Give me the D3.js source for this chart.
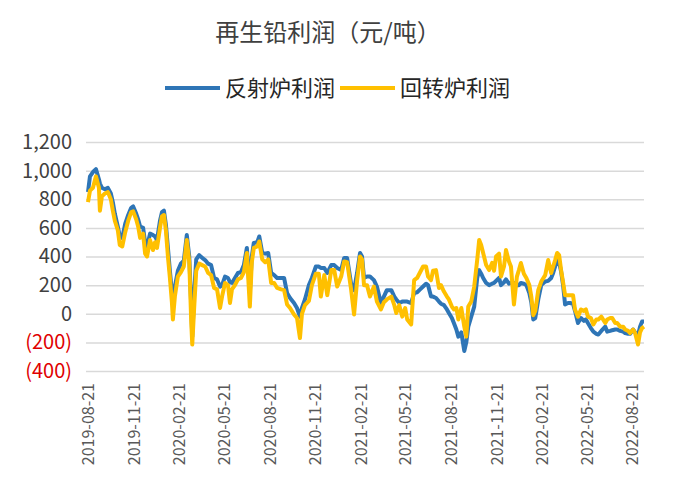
<!DOCTYPE html>
<html>
<head>
<meta charset="utf-8">
<script src="https://cdn.jsdelivr.net/npm/d3@7"></script>
<style>
  body { margin: 0; background: #fff; }
  text { font-family: "Noto Sans CJK SC", "Noto Sans", sans-serif; }
</style>
</head>
<body>
<div id="my_dataviz"></div>
<script>

// chart data (roughly weekly)
var dates = [
  "2019-08-21","2019-08-25","2019-08-31","2019-09-06","2019-09-12","2019-09-14","2019-09-18","2019-09-24","2019-09-30","2019-10-06",
  "2019-10-10","2019-10-14","2019-10-20","2019-10-24","2019-10-29","2019-11-04","2019-11-10","2019-11-16","2019-11-20","2019-11-26",
  "2019-11-30","2019-12-04","2019-12-10","2019-12-14","2019-12-18","2019-12-24","2019-12-30","2020-01-03","2020-01-07","2020-01-13",
  "2020-01-17","2020-01-21","2020-01-25","2020-01-29","2020-02-02","2020-02-06","2020-02-08","2020-02-12","2020-02-18","2020-02-24",
  "2020-03-01","2020-03-07","2020-03-12","2020-03-16","2020-03-18","2020-03-22","2020-03-26","2020-04-01","2020-04-07","2020-04-13",
  "2020-04-19","2020-04-25","2020-05-01","2020-05-07","2020-05-13","2020-05-17","2020-05-23","2020-05-29","2020-06-02","2020-06-06",
  "2020-06-12","2020-06-18","2020-06-24","2020-06-30","2020-07-06","2020-07-12","2020-07-16","2020-07-20","2020-07-27","2020-07-31",
  "2020-08-06","2020-08-12","2020-08-18","2020-08-24","2020-08-30","2020-09-05","2020-09-13","2020-09-19","2020-09-25","2020-10-01",
  "2020-10-09","2020-10-15","2020-10-21","2020-10-25","2020-10-31","2020-11-08","2020-11-14","2020-11-22","2020-11-28","2020-12-02",
  "2020-12-09","2020-12-15","2020-12-23","2020-12-29","2021-01-04","2021-01-12","2021-01-18","2021-01-24","2021-02-01","2021-02-07",
  "2021-02-13","2021-02-19","2021-02-23","2021-02-27","2021-03-05","2021-03-11","2021-03-19","2021-03-25","2021-04-02","2021-04-08",
  "2021-04-14","2021-04-23","2021-04-29","2021-05-03","2021-05-09","2021-05-15","2021-05-21","2021-05-25","2021-06-02","2021-06-08",
  "2021-06-14","2021-06-20","2021-06-26","2021-07-02","2021-07-06","2021-07-12","2021-07-16","2021-07-22","2021-07-28","2021-08-01",
  "2021-08-07","2021-08-13","2021-08-17","2021-08-23","2021-08-27","2021-09-01","2021-09-05","2021-09-11","2021-09-17","2021-09-21",
  "2021-09-25","2021-10-01","2021-10-07","2021-10-13","2021-10-17","2021-10-21","2021-10-25","2021-10-31","2021-11-06","2021-11-12",
  "2021-11-16","2021-11-20","2021-11-26","2021-11-30","2021-12-06","2021-12-10","2021-12-16","2021-12-20","2021-12-26","2022-01-01",
  "2022-01-05","2022-01-09","2022-01-15","2022-01-20","2022-01-26","2022-01-30","2022-02-03","2022-02-07","2022-02-13","2022-02-19",
  "2022-02-27","2022-03-05","2022-03-11","2022-03-15","2022-03-19","2022-03-23","2022-03-27","2022-03-31","2022-04-04","2022-04-08",
  "2022-04-14","2022-04-18","2022-04-24","2022-04-28","2022-05-04","2022-05-10","2022-05-16","2022-05-20","2022-05-24","2022-05-30",
  "2022-06-04","2022-06-10","2022-06-14","2022-06-20","2022-06-28","2022-07-02","2022-07-08","2022-07-12","2022-07-18","2022-07-22",
  "2022-07-28","2022-08-03","2022-08-07","2022-08-13","2022-08-17","2022-08-23","2022-08-27","2022-09-02","2022-09-06","2022-09-10",
  "2022-09-14"
]

// 反射炉利润
var reverb = [
  850,960,990,1010,940,910,880,870,880,840,
  780,700,610,540,530,630,690,740,750,700,
  660,610,600,500,470,560,550,540,515,650,
  710,720,620,460,300,150,75,190,300,350,
  370,550,400,50,-160,150,380,410,390,375,
  350,340,250,240,190,200,260,250,220,215,
  250,285,290,340,460,145,400,495,500,540,
  425,420,425,285,270,250,250,250,145,110,
  75,40,-20,40,100,200,250,330,330,320,
  320,285,340,340,320,305,390,390,210,165,
  285,425,400,250,260,260,235,190,75,120,
  165,165,120,100,75,85,85,85,75,145,
  150,170,190,210,200,120,120,110,85,70,
  60,30,5,-30,-65,-110,-160,-130,-260,-200,
  -90,-20,50,250,305,280,250,215,200,210,
  215,230,250,200,220,240,210,215,215,200,
  200,215,210,200,145,80,-40,-30,100,200,
  225,230,250,285,330,375,360,295,200,65,
  75,75,70,20,-65,-30,-50,-40,-65,-100,
  -125,-140,-145,-120,-90,-125,-120,-115,-110,-110,
  -120,-125,-135,-140,-140,-110,-130,-150,-90,-55,
  -55
]

// 回转炉利润
var rotary = [
  780,860,880,960,880,720,820,840,850,800,
  720,650,585,480,470,570,650,710,715,660,
  610,530,560,420,400,515,445,500,460,600,
  680,690,580,400,250,80,-40,120,260,290,
  330,515,360,-60,-215,50,300,350,340,330,
  285,270,180,170,40,120,215,200,75,170,
  200,240,250,290,425,50,360,460,470,505,
  380,360,380,215,215,180,170,165,65,40,
  -5,-30,-170,0,60,90,200,280,280,120,
  270,130,305,305,190,260,365,360,170,-5,
  230,400,380,200,200,120,190,85,30,80,
  100,120,60,5,60,-20,40,-40,-75,235,
  250,290,330,330,260,235,300,305,180,200,
  155,120,100,50,30,40,-40,40,-90,-160,
  50,85,190,375,515,480,425,340,305,355,
  300,400,420,260,330,445,365,330,65,260,
  305,355,280,250,200,120,-10,20,165,225,
  270,375,285,330,375,425,410,305,220,130,
  130,130,130,30,-20,30,20,30,-20,-30,
  -75,-40,-40,-20,-65,-40,-30,-30,-65,-65,
  -90,-90,-110,-120,-135,-110,-135,-215,-130,-100,
  -90
]

var seriesNames = ["反射炉利润", "回转炉利润"]
var seriesColors = ["#2e75b6", "#ffc000"]
var xTickLabels = ["2019-08-21","2019-11-21","2020-02-21","2020-05-21","2020-08-21","2020-11-21",
  "2021-02-21","2021-05-21","2021-08-21","2021-11-21","2022-02-21","2022-05-21","2022-08-21"]
var yTicks = [-400, -200, 0, 200, 400, 600, 800, 1000, 1200]

let width = 700,
    height = 483

var parse = d3.timeParse("%Y-%m-%d")

var svg = d3.select("#my_dataviz")
  .append("svg")
    .attr("width", width)
    .attr("height", height)

// scales
var x = d3.scaleTime()
  .domain([parse(dates[0]), parse(dates[dates.length - 1])])
  .range([88, 644])

var y = d3.scaleLinear()
  .domain([-400, 1200])
  .range([371, 142])

// y axis + gridlines
var fmt = d3.format(",")
var yAxis = svg.append("g")
  .attr("transform", "translate(86,0)")
  .call(d3.axisLeft(y)
    .tickValues(yTicks)
    .tickSizeInner(-558)
    .tickSizeOuter(0)
    .tickPadding(14)
    .tickFormat(function(d){ return d < 0 ? "(" + fmt(-d) + ")" : fmt(d) }))
yAxis.select(".domain").remove()
yAxis.selectAll("line")
  .attr("stroke", "#d9d9d9")
  .attr("stroke-width", 1.5)
yAxis.selectAll("text")
  .style("font-size", "20px")
  .attr("fill", function(d){ return d < 0 ? "#e00000" : "#404040" })

// x axis, labels rotated
var xAxis = svg.append("g")
  .attr("transform", "translate(0,371)")
  .call(d3.axisBottom(x)
    .tickValues(xTickLabels.map(parse))
    .tickSize(0)
    .tickFormat(d3.timeFormat("%Y-%m-%d")))
xAxis.select(".domain").remove()
xAxis.selectAll("text")
  .style("font-size", "16px")
  .attr("fill", "#595959")
  .attr("text-anchor", "end")
  .attr("transform", "rotate(-90)")
  .attr("x", -12)
  .attr("y", 0)
  .attr("dy", "0.35em")

// lines: blue first, yellow on top
var seriesData = [reverb, rotary]
var line = d3.line()
  .x(function(d, i){ return x(parse(dates[i])) })
  .y(function(d){ return y(d) })

seriesData.forEach(function(vals, k) {
  svg.append("path")
    .datum(vals)
    .attr("fill", "none")
    .attr("stroke", seriesColors[k])
    .attr("stroke-width", 4)
    .attr("stroke-linejoin", "round")
    .attr("d", line)
})

// title
svg.append("text")
  .attr("x", 328)
  .attr("y", 41)
  .attr("text-anchor", "middle")
  .style("font-size", "24px")
  .attr("fill", "#404040")
  .text("再生铅利润（元/吨）")

// legend
var legendX = [165, 340]
seriesNames.forEach(function(name, k) {
  svg.append("line")
    .attr("x1", legendX[k]).attr("x2", legendX[k] + 55)
    .attr("y1", 88).attr("y2", 88)
    .attr("stroke", seriesColors[k])
    .attr("stroke-width", 4)
  svg.append("text")
    .attr("x", legendX[k] + 60)
    .attr("y", 96)
    .style("font-size", "22px")
    .attr("fill", "#262626")
    .text(name)
})

</script>
</body>
</html>
